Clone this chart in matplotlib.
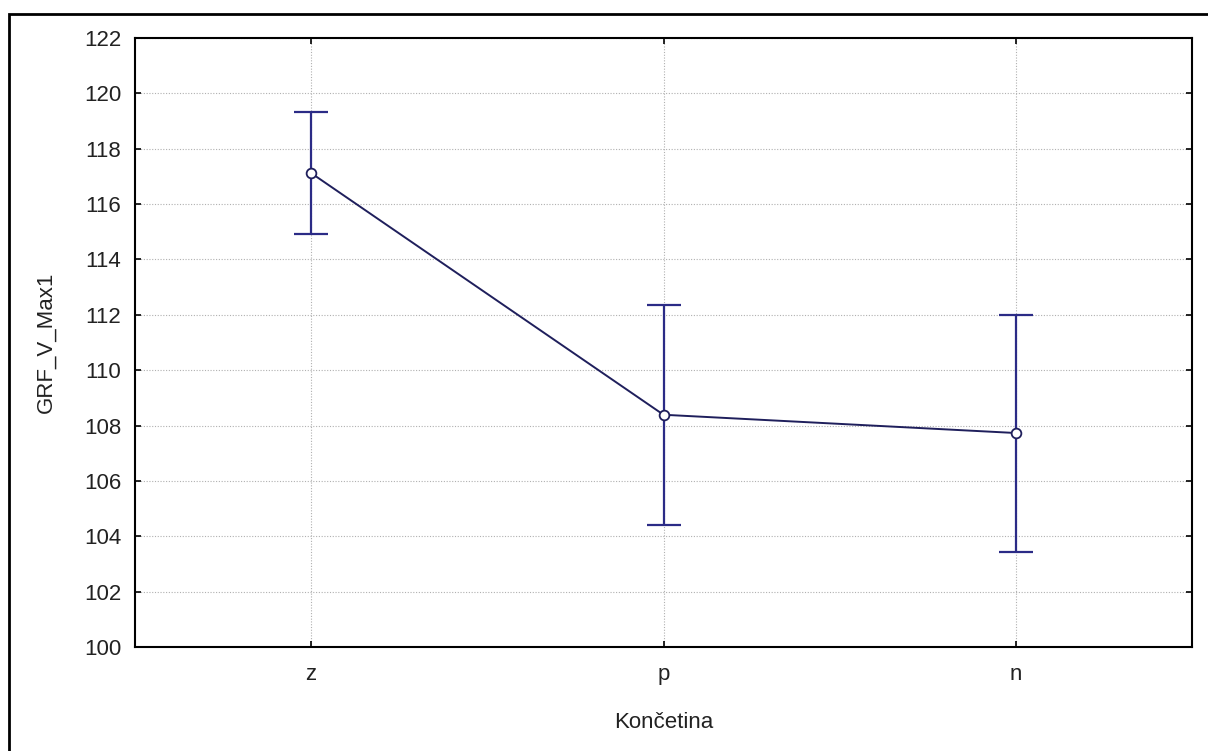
import matplotlib

matplotlib.use("Agg")
import matplotlib.pyplot as plt
from matplotlib.patches import Rectangle

categories = ["z", "p", "n"]
means = [117.12, 108.39, 107.73]
upper = [119.34, 112.34, 112.00]
lower = [114.92, 104.42, 103.43]

plt.rcParams["font.family"] = ["Liberation Sans", "DejaVu Sans"]

fig = plt.figure(figsize=(12.08, 7.51), dpi=100)
W, H = 1208, 751
ax = fig.add_axes([135 / W, 1 - 647 / H, (1192 - 135) / W, (647 - 38) / H])

x = list(range(len(categories)))
err_lo = [m - l for m, l in zip(means, lower)]
err_hi = [u - m for m, u in zip(means, upper)]

ax.errorbar(x, means, yerr=[err_lo, err_hi], fmt="none", ecolor="#2b2b86",
            elinewidth=1.6, capsize=12.5, capthick=1.6, zorder=3)
ax.plot(x, means, color="#1f1f5c", linewidth=1.4, marker="o", markersize=7,
        markerfacecolor="white", markeredgecolor="#1f1f5c", markeredgewidth=1.3, zorder=4)

ax.set_xlim(-0.5, 2.5)
ax.set_ylim(100, 122)
ax.set_yticks(range(100, 123, 2))
ax.set_xticks(x)
ax.set_xticklabels(categories)
ax.grid(True, linestyle=(0, (1, 1.5)), color="#b0b0b0", linewidth=0.8)
ax.tick_params(direction="in", top=True, right=True, length=4, width=1.2,
               labelsize=16, colors="black")
ax.tick_params(axis="y", pad=10, labelcolor="#222222")
ax.tick_params(axis="x", pad=12, labelcolor="#222222")
for s in ax.spines.values():
    s.set_linewidth(1.5)

ax.set_xlabel("Končetina", fontsize=16, labelpad=20, color="#222222")
ax.set_ylabel("GRF_V_Max1", fontsize=16, labelpad=20, color="#222222")

# outer frame of the exported graph window
fig.patches.append(Rectangle((8.5 / W, -0.1), 1.2, 1 - 13.5 / H + 0.1,
                             transform=fig.transFigure, fill=False,
                             edgecolor="black", linewidth=2, zorder=0))

fig.savefig("out.png", dpi=100)
